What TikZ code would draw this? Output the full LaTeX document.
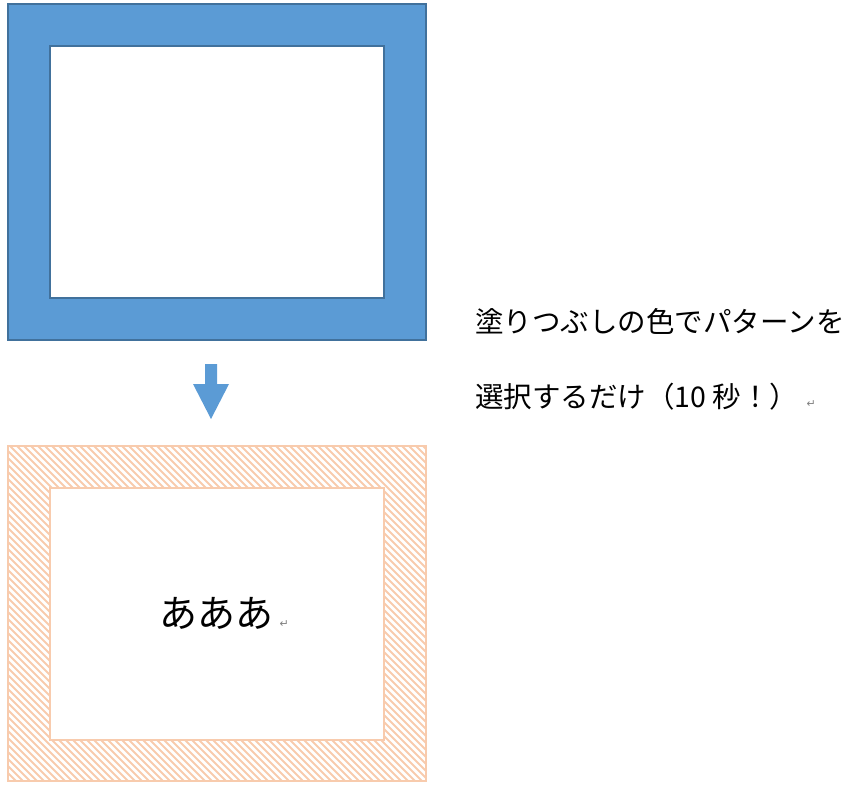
\documentclass[tikz,border=0pt]{standalone}
\usepackage{fontspec}
\usepackage{tikz}
\usetikzlibrary{positioning}
\newfontfamily\jpfont{Noto Sans CJK JP}
\newfontfamily\symfont{DejaVu Sans}
\definecolor{frameblue}{RGB}{91,155,213}
\definecolor{lineblue}{RGB}{65,113,156}
\definecolor{peach}{RGB}{248,203,173}
\tikzstyle{bluebox} = [draw=lineblue, line width=1.5pt]
\tikzstyle{peachbox} = [draw=peach, line width=2pt]
\tikzstyle{hatch} = [peach, line width=1.8pt]
\tikzstyle{jptext} = [inner sep=0pt, anchor=base west, font=\jpfont\fontsize{28.5}{34}\selectfont]
\tikzstyle{retmark} = [inner sep=0pt, anchor=base west, text=gray, font=\symfont\fontsize{11}{12}\selectfont]

\begin{document}
\begin{tikzpicture}[x=1pt, y=-1pt]
  \useasboundingbox (0,0) rectangle (859,802);
  % Top frame
  \fill [frameblue] (8,4) rectangle (426,340);
  \draw [bluebox] (8,4) rectangle (426,340);
  \fill [white] (50,46) rectangle (384,298);
  \draw [bluebox] (50,46) rectangle (384,298);
  % Down arrow
  \fill [frameblue] (205,364) -- (217,364) -- (217,384) -- (229,384)
    -- (211,419) -- (193,384) -- (205,384) -- cycle;
  % Bottom frame with hatching
  \begin{scope}[even odd rule]
    \clip (8,446) rectangle (426,781) (50,488) rectangle (384,740);
    \foreach \k in {0,...,112}
      \draw [hatch] (-340+7*\k,446) -- ++(340,340);
  \end{scope}
  \draw [peachbox] (8,446) rectangle (426,781);
  \draw [peachbox] (50,488) rectangle (384,740);
  % Place nodes
  \node [jptext, font=\jpfont\fontsize{38}{42}\selectfont] (aaa) at (159,627) {あああ};
  \node [retmark, right=6pt of aaa.base east, anchor=base west] (ret1) {↵};
  \node [jptext] (line1) at (475,332) {塗りつぶしの色でパターンを};
  \node [jptext] (line2) at (475,407) {選択するだけ（10 秒！）};
  \node [retmark, right=8pt of line2.base east, anchor=base west] (ret2) {↵};
\end{tikzpicture}
\end{document}
